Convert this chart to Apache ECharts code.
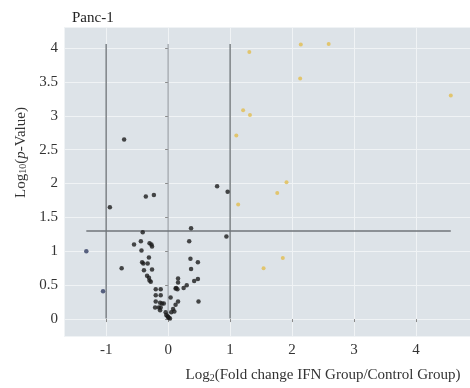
<!DOCTYPE html>
<html>
<head>
<meta charset="utf-8">
<script src="https://cdn.jsdelivr.net/npm/echarts@6/dist/echarts.min.js"></script>
<style>
  html, body { margin: 0; padding: 0; background: #fff; }
  #chart { width: 470px; height: 388px; }
</style>
</head>
<body>
<div id="chart"></div>
<script>
// [log2 fold change, -log10 p]
const otherGenes = [
  [-0.71, 2.65], [-0.94, 1.65], [-0.36, 1.81], [-0.23, 1.83], [0.79, 1.96], [0.96, 1.88],
  [0.94, 1.22], [0.37, 1.34], [0.34, 1.15], [0.36, 0.89], [0.48, 0.84], [0.37, 0.74],
  [0.42, 0.56], [0.48, 0.59], [0.49, 0.26], [0.30, 0.50], [0.25, 0.46], [0.16, 0.60],
  [0.16, 0.54], [0.12, 0.45], [0.15, 0.44], [0.13, 0.46], [0.16, 0.26], [0.12, 0.21],
  [0.04, 0.32], [0.08, 0.15], [0.10, 0.11], [0.05, 0.10], [0.01, 0.02], [0.03, 0.01],
  [-0.01, 0.04], [-0.03, 0.06], [-0.04, 0.10], [0.00, 0.03], [-0.13, 0.13], [-0.15, 0.17],
  [-0.12, 0.17], [-0.21, 0.17], [-0.10, 0.23], [-0.07, 0.23], [-0.13, 0.24], [-0.20, 0.26],
  [-0.12, 0.35], [-0.20, 0.35], [-0.12, 0.44], [-0.20, 0.44], [-0.28, 0.55], [-0.30, 0.57],
  [-0.31, 0.61], [-0.34, 0.64], [-0.26, 0.73], [-0.39, 0.72], [-0.75, 0.75], [-0.40, 0.82],
  [-0.33, 0.82], [-0.42, 0.84], [-0.31, 0.91], [-0.43, 1.01], [-0.55, 1.10], [-0.44, 1.15],
  [-0.30, 1.12], [-0.27, 1.10], [-0.26, 1.07], [-0.41, 1.28]
]
const downGenes = [[-1.32, 1.00], [-1.05, 0.41]]
const upGenes = [
  [1.31, 3.94], [2.14, 4.05], [2.59, 4.06], [2.13, 3.55], [1.21, 3.08], [1.32, 3.01],
  [4.56, 3.30], [1.10, 2.71], [1.91, 2.02], [1.76, 1.86], [1.13, 1.69], [1.85, 0.90],
  [1.54, 0.75]
]
const foldCutoffs = [-1, 0, 1]
const pCutoff = 1.3

const allGenes = [...otherGenes, ...downGenes, ...upGenes]
const xs = allGenes.map(g => g[0])
const ys = allGenes.map(g => g[1])
const xLow = Math.min(...xs)
const xHigh = Math.max(...xs)
const yLow = Math.min(...ys)
const yHigh = Math.max(...ys)

const serif = 'Liberation Serif, Times New Roman, serif'
const textColor = '#333'

const cutoffSeries = foldCutoffs.map((c) => {
  return {
    type: 'line',
    silent: true,
    symbol: 'none',
    z: 1,
    lineStyle: { color: c === 0 ? '#9aa0a6' : '#62676c', width: 1.2 },
    data: [[c, yLow], [c, yHigh]]
  }
})

const chart = echarts.init(document.getElementById('chart'))
chart.setOption({
  animation: false,
  textStyle: { fontFamily: serif },
  title: {
    text: 'Panc-1',
    left: 67,
    top: 6,
    textStyle: { fontFamily: serif, fontSize: 15, fontWeight: 'normal', color: '#222' }
  },
  grid: {
    left: 64,
    top: 27,
    right: 0,
    bottom: 50,
    show: true,
    backgroundColor: '#dde3e8',
    borderWidth: 0
  },
  xAxis: {
    type: 'value',
    min: -1.68,
    max: 4.87,
    minInterval: 1,
    maxInterval: 1,
    axisLine: { show: false },
    axisTick: { show: true, length: 3, lineStyle: { color: '#8a8a8a' } },
    splitLine: { lineStyle: { color: '#f0f3f5', width: 1 } },
    axisLabel: {
      showMinLabel: false,
      showMaxLabel: false,
      margin: 7,
      fontSize: 15,
      color: textColor,
      fontFamily: serif
    },
    name: 'Log{sub|2}(Fold change IFN Group/Control Group)',
    nameLocation: 'middle',
    nameGap: 32,
    nameTextStyle: {
      fontFamily: serif,
      fontSize: 15,
      color: textColor,
      padding: [0, 0, 0, 112],
      rich: {
        sub: { fontSize: 10, verticalAlign: 'bottom', fontFamily: serif, color: textColor }
      }
    }
  },
  yAxis: {
    type: 'value',
    min: -0.25,
    max: 4.31,
    minInterval: 0.5,
    maxInterval: 0.5,
    axisLine: { show: false },
    axisTick: { show: true, length: 3, lineStyle: { color: '#8a8a8a' } },
    splitLine: { lineStyle: { color: '#f0f3f5', width: 1 } },
    axisLabel: {
      showMinLabel: false,
      showMaxLabel: false,
      margin: 6,
      fontSize: 15,
      color: textColor,
      fontFamily: serif
    },
    name: 'Log{sub|10}({it|p}-Value)',
    nameLocation: 'middle',
    nameGap: 34,
    nameTextStyle: {
      fontFamily: serif,
      fontSize: 15,
      color: textColor,
      padding: [0, 0, 0, 58],
      rich: {
        sub: { fontSize: 10, verticalAlign: 'bottom', fontFamily: serif, color: textColor },
        it: { fontStyle: 'italic', fontSize: 15, fontFamily: serif, color: textColor }
      }
    }
  },
  series: [
    ...cutoffSeries,
    {
      type: 'line',
      silent: true,
      symbol: 'none',
      z: 1,
      lineStyle: { color: '#6f757a', width: 1.5 },
      data: [[xLow, pCutoff], [xHigh, pCutoff]]
    },
    {
      type: 'scatter',
      symbolSize: 4.5,
      z: 3,
      itemStyle: { color: '#1c1c1c' },
      data: otherGenes
    },
    {
      type: 'scatter',
      symbolSize: 4.5,
      z: 3,
      itemStyle: { color: '#333d63' },
      data: downGenes
    },
    {
      type: 'scatter',
      symbolSize: 4,
      z: 3,
      itemStyle: { color: '#e2bd4f' },
      data: upGenes
    }
  ]
})
</script>
</body>
</html>
